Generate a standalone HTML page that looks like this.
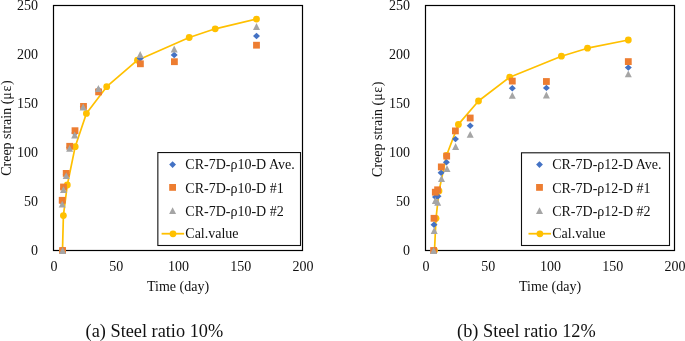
<!DOCTYPE html>
<html><head><meta charset="utf-8"><style>
html,body{margin:0;padding:0;background:#fff;width:685px;height:341px;overflow:hidden}
svg{display:block;will-change:transform}
.t{font-family:"Liberation Serif",serif;font-size:14px;fill:#111}
.c{font-family:"Liberation Serif",serif;font-size:18.3px;fill:#111}
</style></head><body>
<svg width="685" height="341" viewBox="0 0 685 341">
<rect x="53.5" y="5.5" width="249" height="245" fill="none" stroke="#000" stroke-width="1.2"/>
<polyline points="62.5,250.5 63.4,215.6 67.3,185 75.2,146.7 86.4,113.4 106.7,86.7 137.5,60.2 189.2,37.5 215.2,28.8 256.5,19.1" fill="none" stroke="#FFC000" stroke-width="1.7" stroke-linejoin="round"/>
<circle cx="62.5" cy="250.5" r="3.4" fill="#FFC000"/>
<circle cx="63.4" cy="215.6" r="3.4" fill="#FFC000"/>
<circle cx="67.3" cy="185" r="3.4" fill="#FFC000"/>
<circle cx="75.2" cy="146.7" r="3.4" fill="#FFC000"/>
<circle cx="86.4" cy="113.4" r="3.4" fill="#FFC000"/>
<circle cx="106.7" cy="86.7" r="3.4" fill="#FFC000"/>
<circle cx="137.5" cy="60.2" r="3.4" fill="#FFC000"/>
<circle cx="189.2" cy="37.5" r="3.4" fill="#FFC000"/>
<circle cx="215.2" cy="28.8" r="3.4" fill="#FFC000"/>
<circle cx="256.5" cy="19.1" r="3.4" fill="#FFC000"/>
<path d="M62.6 247.3L66.1 250.5L62.6 253.7L59.1 250.5Z" fill="#4472C4"/>
<path d="M62.2 198.8L65.7 202L62.2 205.2L58.7 202Z" fill="#4472C4"/>
<path d="M63.5 185.3L67 188.5L63.5 191.7L60 188.5Z" fill="#4472C4"/>
<path d="M66.2 171.3L69.7 174.5L66.2 177.7L62.7 174.5Z" fill="#4472C4"/>
<path d="M69.6 144.1L73.1 147.3L69.6 150.5L66.1 147.3Z" fill="#4472C4"/>
<path d="M74.8 129.8L78.3 133L74.8 136.2L71.3 133Z" fill="#4472C4"/>
<path d="M83.3 103.5L86.8 106.7L83.3 109.9L79.8 106.7Z" fill="#4472C4"/>
<path d="M98.5 86.8L102 90L98.5 93.2L95 90Z" fill="#4472C4"/>
<path d="M140.2 55.3L143.7 58.5L140.2 61.7L136.7 58.5Z" fill="#4472C4"/>
<path d="M174.2 51.8L177.7 55L174.2 58.2L170.7 55Z" fill="#4472C4"/>
<path d="M256.5 32.8L260 36L256.5 39.2L253 36Z" fill="#4472C4"/>
<rect x="59.2" y="247.1" width="6.8" height="6.8" fill="#ED7D31"/>
<rect x="58.8" y="196.9" width="6.8" height="6.8" fill="#ED7D31"/>
<rect x="60.1" y="183.6" width="6.8" height="6.8" fill="#ED7D31"/>
<rect x="62.8" y="170" width="6.8" height="6.8" fill="#ED7D31"/>
<rect x="66.3" y="142.9" width="6.8" height="6.8" fill="#ED7D31"/>
<rect x="71.6" y="127.3" width="6.8" height="6.8" fill="#ED7D31"/>
<rect x="80.1" y="103" width="6.8" height="6.8" fill="#ED7D31"/>
<rect x="95.2" y="88.5" width="6.8" height="6.8" fill="#ED7D31"/>
<rect x="137" y="60.4" width="6.8" height="6.8" fill="#ED7D31"/>
<rect x="171" y="58.3" width="6.8" height="6.8" fill="#ED7D31"/>
<rect x="253.1" y="41.8" width="6.8" height="6.8" fill="#ED7D31"/>
<path d="M62.6 247.1L66.1 253.9L59.1 253.9Z" fill="#A5A5A5"/>
<path d="M62.2 200.8L65.7 207.6L58.7 207.6Z" fill="#A5A5A5"/>
<path d="M63.5 186.3L67 193.1L60 193.1Z" fill="#A5A5A5"/>
<path d="M66.2 172.2L69.7 179L62.7 179Z" fill="#A5A5A5"/>
<path d="M69.6 144.9L73.1 151.7L66.1 151.7Z" fill="#A5A5A5"/>
<path d="M74.7 131.6L78.2 138.4L71.2 138.4Z" fill="#A5A5A5"/>
<path d="M83.2 103.6L86.7 110.4L79.7 110.4Z" fill="#A5A5A5"/>
<path d="M98.4 85.1L101.9 91.9L94.9 91.9Z" fill="#A5A5A5"/>
<path d="M140.2 51.1L143.7 57.9L136.7 57.9Z" fill="#A5A5A5"/>
<path d="M174.2 45.6L177.7 52.4L170.7 52.4Z" fill="#A5A5A5"/>
<path d="M256.5 23.1L260 29.9L253 29.9Z" fill="#A5A5A5"/>
<text x="38" y="254.6" text-anchor="end" class="t">0</text>
<text x="38" y="205.6" text-anchor="end" class="t">50</text>
<text x="38" y="156.6" text-anchor="end" class="t">100</text>
<text x="38" y="107.6" text-anchor="end" class="t">150</text>
<text x="38" y="58.6" text-anchor="end" class="t">200</text>
<text x="38" y="9.6" text-anchor="end" class="t">250</text>
<text x="53.9" y="271.1" text-anchor="middle" class="t">0</text>
<text x="116.15" y="271.1" text-anchor="middle" class="t">50</text>
<text x="178.4" y="271.1" text-anchor="middle" class="t">100</text>
<text x="240.65" y="271.1" text-anchor="middle" class="t">150</text>
<text x="302.9" y="271.1" text-anchor="middle" class="t">200</text>
<text x="178" y="290.8" text-anchor="middle" class="t">Time (day)</text>
<text transform="translate(10.6,128.1) rotate(-90)" text-anchor="middle" class="t">Creep strain (<tspan style="letter-spacing:0.6px">με</tspan>)</text>
<text x="154.4" y="337.1" text-anchor="middle" class="c">(a) Steel ratio 10%</text>
<rect x="157.85" y="152.55" width="142.65" height="92.95" fill="#fff" stroke="#111" stroke-width="1.1"/>
<path d="M172.6 161.2L176 164.6L172.6 168L169.2 164.6Z" fill="#4472C4"/>
<rect x="169.2" y="184" width="6.8" height="6.8" fill="#ED7D31"/>
<path d="M172.6 207.25L176.1 214.05L169.1 214.05Z" fill="#A5A5A5"/>
<line x1="161.6" y1="233.7" x2="184.1" y2="233.7" stroke="#FFC000" stroke-width="1.8"/>
<circle cx="173" cy="233.85" r="3.4" fill="#FFC000"/>
<text x="185.3" y="169.4" class="t">CR-7D-ρ10-D Ave.</text>
<text x="185.3" y="192.8" class="t">CR-7D-ρ10-D #1</text>
<text x="185.3" y="215.6" class="t">CR-7D-ρ10-D #2</text>
<text x="185.3" y="238.4" class="t">Cal.value</text>
<rect x="425.5" y="5.5" width="249" height="245" fill="none" stroke="#000" stroke-width="1.2"/>
<polyline points="434.5,250.5 436,218.3 439,191 446.5,155.5 458.4,124.4 478.5,101 509.7,77.2 561.4,56.2 587.5,48.2 628.3,40" fill="none" stroke="#FFC000" stroke-width="1.7" stroke-linejoin="round"/>
<circle cx="434.5" cy="250.5" r="3.4" fill="#FFC000"/>
<circle cx="436" cy="218.3" r="3.4" fill="#FFC000"/>
<circle cx="439" cy="191" r="3.4" fill="#FFC000"/>
<circle cx="446.5" cy="155.5" r="3.4" fill="#FFC000"/>
<circle cx="458.4" cy="124.4" r="3.4" fill="#FFC000"/>
<circle cx="478.5" cy="101" r="3.4" fill="#FFC000"/>
<circle cx="509.7" cy="77.2" r="3.4" fill="#FFC000"/>
<circle cx="561.4" cy="56.2" r="3.4" fill="#FFC000"/>
<circle cx="587.5" cy="48.2" r="3.4" fill="#FFC000"/>
<circle cx="628.3" cy="40" r="3.4" fill="#FFC000"/>
<path d="M433.6 247.3L437.1 250.5L433.6 253.7L430.1 250.5Z" fill="#4472C4"/>
<path d="M434 221.6L437.5 224.8L434 228L430.5 224.8Z" fill="#4472C4"/>
<path d="M435.5 193.8L439 197L435.5 200.2L432 197Z" fill="#4472C4"/>
<path d="M438 193.1L441.5 196.3L438 199.5L434.5 196.3Z" fill="#4472C4"/>
<path d="M441.1 169.6L444.6 172.8L441.1 176L437.6 172.8Z" fill="#4472C4"/>
<path d="M446.4 159.1L449.9 162.3L446.4 165.5L442.9 162.3Z" fill="#4472C4"/>
<path d="M455.5 135.9L459 139.1L455.5 142.3L452 139.1Z" fill="#4472C4"/>
<path d="M470.2 122.6L473.7 125.8L470.2 129L466.7 125.8Z" fill="#4472C4"/>
<path d="M512.3 85L515.8 88.2L512.3 91.4L508.8 88.2Z" fill="#4472C4"/>
<path d="M546.4 84.7L549.9 87.9L546.4 91.1L542.9 87.9Z" fill="#4472C4"/>
<path d="M628.3 64.4L631.8 67.6L628.3 70.8L624.8 67.6Z" fill="#4472C4"/>
<rect x="430.2" y="247.1" width="6.8" height="6.8" fill="#ED7D31"/>
<rect x="430.6" y="214.9" width="6.8" height="6.8" fill="#ED7D31"/>
<rect x="431.9" y="188.8" width="6.8" height="6.8" fill="#ED7D31"/>
<rect x="434.2" y="186.4" width="6.8" height="6.8" fill="#ED7D31"/>
<rect x="437.9" y="163.5" width="6.8" height="6.8" fill="#ED7D31"/>
<rect x="443.3" y="152.7" width="6.8" height="6.8" fill="#ED7D31"/>
<rect x="452" y="127.5" width="6.8" height="6.8" fill="#ED7D31"/>
<rect x="466.8" y="114.6" width="6.8" height="6.8" fill="#ED7D31"/>
<rect x="508.9" y="77.7" width="6.8" height="6.8" fill="#ED7D31"/>
<rect x="543" y="78.1" width="6.8" height="6.8" fill="#ED7D31"/>
<rect x="624.9" y="58.2" width="6.8" height="6.8" fill="#ED7D31"/>
<path d="M433.6 247.1L437.1 253.9L430.1 253.9Z" fill="#A5A5A5"/>
<path d="M434.2 227.1L437.7 233.9L430.7 233.9Z" fill="#A5A5A5"/>
<path d="M435.4 197.1L438.9 203.9L431.9 203.9Z" fill="#A5A5A5"/>
<path d="M437.7 198.9L441.2 205.7L434.2 205.7Z" fill="#A5A5A5"/>
<path d="M441.5 175.1L445 181.9L438 181.9Z" fill="#A5A5A5"/>
<path d="M447 165.3L450.5 172.1L443.5 172.1Z" fill="#A5A5A5"/>
<path d="M455.6 143.1L459.1 149.9L452.1 149.9Z" fill="#A5A5A5"/>
<path d="M470.2 131L473.7 137.8L466.7 137.8Z" fill="#A5A5A5"/>
<path d="M512.3 91.9L515.8 98.7L508.8 98.7Z" fill="#A5A5A5"/>
<path d="M546.4 91.6L549.9 98.4L542.9 98.4Z" fill="#A5A5A5"/>
<path d="M628.3 70.4L631.8 77.2L624.8 77.2Z" fill="#A5A5A5"/>
<text x="410" y="254.6" text-anchor="end" class="t">0</text>
<text x="410" y="205.6" text-anchor="end" class="t">50</text>
<text x="410" y="156.6" text-anchor="end" class="t">100</text>
<text x="410" y="107.6" text-anchor="end" class="t">150</text>
<text x="410" y="58.6" text-anchor="end" class="t">200</text>
<text x="410" y="9.6" text-anchor="end" class="t">250</text>
<text x="425.9" y="271.1" text-anchor="middle" class="t">0</text>
<text x="488.15" y="271.1" text-anchor="middle" class="t">50</text>
<text x="550.4" y="271.1" text-anchor="middle" class="t">100</text>
<text x="612.65" y="271.1" text-anchor="middle" class="t">150</text>
<text x="674.9" y="271.1" text-anchor="middle" class="t">200</text>
<text x="550" y="290.8" text-anchor="middle" class="t">Time (day)</text>
<text transform="translate(382.2,129.2) rotate(-90)" text-anchor="middle" class="t">Creep strain (<tspan style="letter-spacing:0.6px">με</tspan>)</text>
<text x="526.4" y="337.1" text-anchor="middle" class="c">(b) Steel ratio 12%</text>
<rect x="521.5" y="152.8" width="148" height="92.7" fill="#fff" stroke="#111" stroke-width="1.1"/>
<path d="M539.5 161.2L542.9 164.6L539.5 168L536.1 164.6Z" fill="#4472C4"/>
<rect x="536.1" y="184" width="6.8" height="6.8" fill="#ED7D31"/>
<path d="M539.5 207.25L543 214.05L536 214.05Z" fill="#A5A5A5"/>
<line x1="528.5" y1="233.7" x2="551" y2="233.7" stroke="#FFC000" stroke-width="1.8"/>
<circle cx="539.9" cy="233.85" r="3.4" fill="#FFC000"/>
<text x="552.2" y="169.4" class="t">CR-7D-ρ12-D Ave.</text>
<text x="552.2" y="192.8" class="t">CR-7D-ρ12-D #1</text>
<text x="552.2" y="215.6" class="t">CR-7D-ρ12-D #2</text>
<text x="552.2" y="238.4" class="t">Cal.value</text>
</svg>
</body></html>
